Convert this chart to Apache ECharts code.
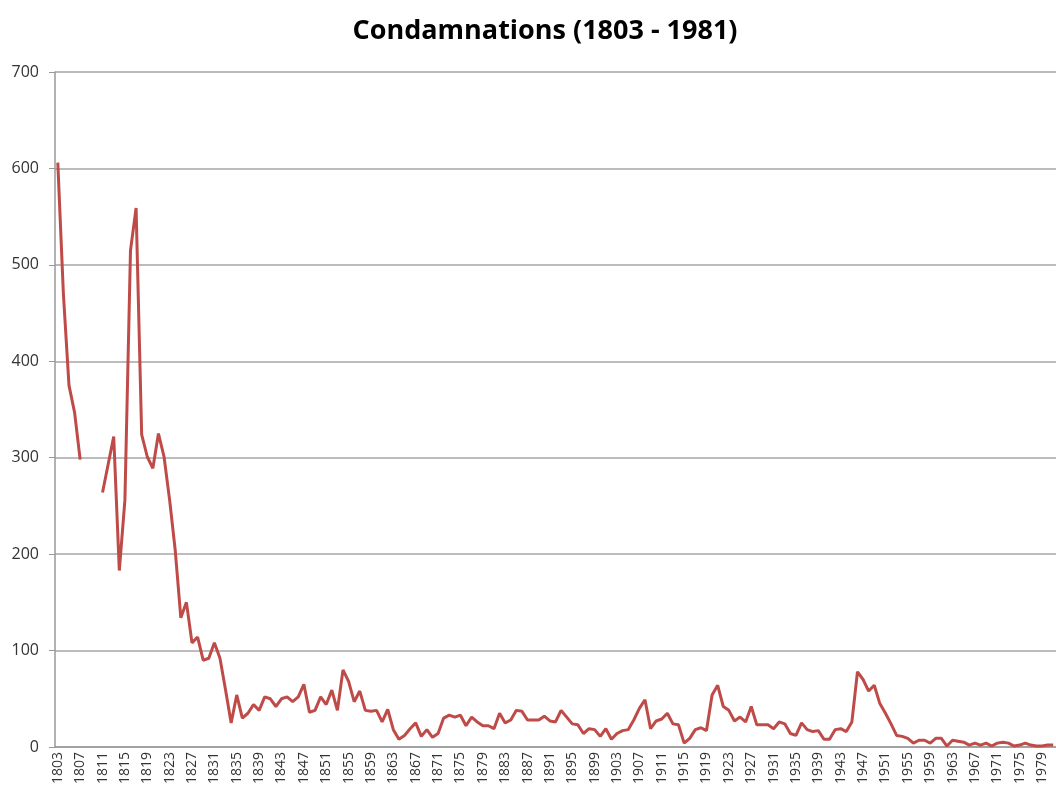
<!DOCTYPE html>
<html>
<head>
<meta charset="utf-8">
<title>Condamnations (1803 - 1981)</title>
<script src="https://cdn.jsdelivr.net/npm/echarts@6/dist/echarts.min.js"></script>
<style>
  html, body { margin: 0; padding: 0; background: #fff; }
  #main { width: 1056px; height: 794px; }
</style>
</head>
<body>
<div id="main"></div>
<script>
// years 1803..1981
var firstYear = 1803;
var lastYear = 1981;
var years = [];
for (var y = firstYear; y <= lastYear; y++) years.push(String(y));

// 1803 - 1842
var values1 = [606, 470, 375, 347, 298, null, null, null, 264, 293,
  322, 183, 256, 515, 559, 324, 301, 289, 325, 301,
  256, 204, 134, 150, 108, 114, 90, 92, 108, 92,
  59, 25, 54, 30, 35, 44, 38, 52, 50, 42];
// 1843 - 1882
var values2 = [50, 52, 47, 52, 65, 36, 38, 52, 44, 59,
  38, 80, 68, 47, 58, 38, 37, 38, 26, 39,
  18, 8, 12, 19, 25, 11, 18, 10, 14, 30,
  33, 31, 33, 22, 31, 26, 22, 22, 19, 35];
// 1883 - 1922
var values3 = [25, 28, 38, 37, 28, 28, 28, 32, 27, 26,
  38, 31, 24, 23, 14, 19, 18, 11, 19, 8,
  14, 17, 18, 28, 40, 49, 19, 27, 29, 35,
  24, 23, 4, 9, 18, 20, 17, 54, 64, 42];
// 1923 - 1981
var values4 = [38, 27, 31, 26, 42, 23, 23, 23, 19, 26,
  24, 14, 12, 25, 18, 16, 17, 8, 8, 18,
  19, 16, 26, 78, 70, 58, 64, 45, 35, 24,
  12, 11, 9, 4, 7, 7, 4, 9, 9, 1,
  7, 6, 5, 2, 4, 2, 4, 1, 4, 5,
  4, 1, 2, 4, 2, 1, 1, 2, 2];

var condamnations = values1.concat(values2, values3, values4);

var yTicks = { min: 0, max: 700, step: 100 };

var chart = echarts.init(document.getElementById("main"));

chart.setOption({
  animation: false,
  backgroundColor: "#fff",
  textStyle: { fontFamily: "Open Sans" },
  title: {
    text: "Condamnations (1803 - 1981)",
    left: 540,
    top: 13,
    textAlign: "center",
    textStyle: {
      fontFamily: "Open Sans",
      fontSize: 27,
      fontWeight: "bold",
      color: "#000"
    }
  },
  grid: {
    left: 55,
    top: 72,
    right: -6,
    bottom: 47
  },
  xAxis: {
    type: "category",
    data: years,
    boundaryGap: true,
    axisLine: { lineStyle: { color: "#999", width: 1.5 } },
    axisTick: { interval: 0, length: 5, lineStyle: { color: "#999" } },
    axisLabel: {
      interval: 3,
      rotate: 90,
      margin: 5,
      fontSize: 14,
      color: "#333"
    },
    splitLine: { show: false }
  },
  yAxis: {
    type: "value",
    min: yTicks.min,
    max: yTicks.max,
    interval: yTicks.step,
    axisLine: { show: true, lineStyle: { color: "#999", width: 1.5 } },
    axisTick: { show: true, length: 6, lineStyle: { color: "#999" } },
    axisLabel: { margin: 16, fontSize: 16, color: "#333" },
    splitLine: { lineStyle: { color: "#a6a6a6", width: 1.5 } }
  },
  series: [
    {
      name: "Condamnations",
      type: "line",
      data: condamnations,
      symbol: "none",
      connectNulls: false,
      lineStyle: { color: "#be4b48", width: 3 }
    }
  ]
});
</script>
</body>
</html>
